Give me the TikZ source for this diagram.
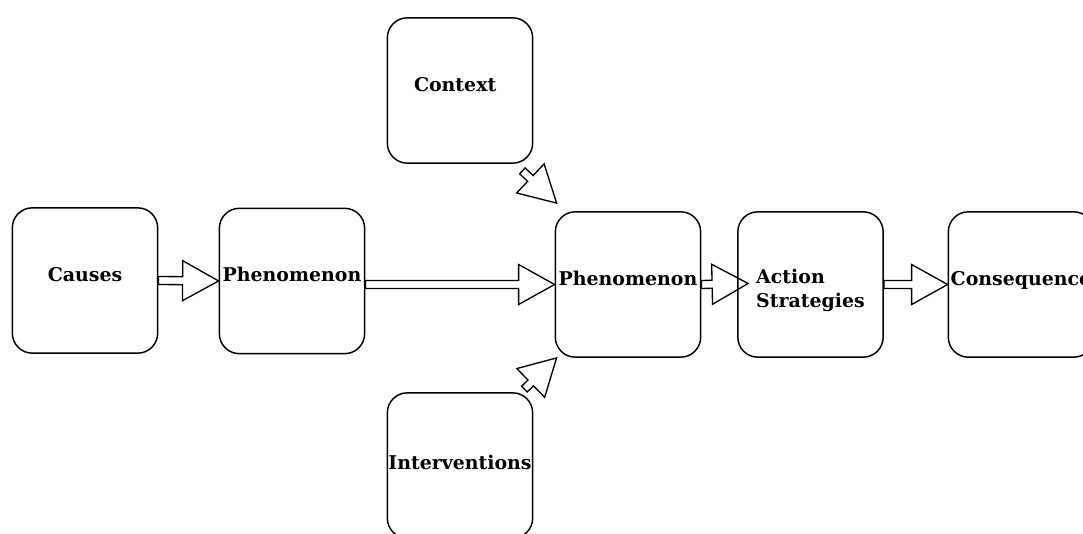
\documentclass[tikz,border=0pt]{standalone}
\usepackage{fontspec}
\setmainfont{DejaVu Serif}
\usetikzlibrary{calc}

\tikzset{
laatikko/.style={draw, rounded corners=15pt, line width=1.1pt, minimum width=109pt, minimum height=109pt, inner sep=0pt, text height=10.2pt, text depth=9pt, font=\fontsize{14.2}{18}\selectfont\bfseries},
nuoli/.style={draw, line width=1pt, line join=miter}
}
% block arrow from #1 to #2
\newcommand\nuoli[2]{
\draw[nuoli] ($(#1)!3pt!90:(#2)$) -- ($(#2)!27pt!(#1)!3pt!-90:(#1)$) -- ($(#2)!27pt!(#1)!15pt!-90:(#1)$) -- (#2) -- ($(#2)!27pt!(#1)!15pt!90:(#1)$) -- ($(#2)!27pt!(#1)!3pt!90:(#1)$) -- ($(#1)!3pt!-90:(#2)$) -- cycle;
}

\begin{document}
\begin{tikzpicture}[x=0.75pt,y=-0.75pt]
\useasboundingbox (0,0) rectangle (1083,534);
\clip (0,0) rectangle (1083,534);
\node[laatikko] (c) at (85,280.5) {Causes};
\node[laatikko] (f1) at (292,281) {Phenomenon};
\node[laatikko, text width=69pt, align=left] (ctx) at (460,90.5) {Context};
\node[laatikko] (f2) at (628,284.5) {Phenomenon};
\node[laatikko, align=left, text height=35.2pt, text depth=0pt] (act) at (810.5,284.5) {Action\\Strategies};
\node[laatikko] (cons) at (1021,284.5) {Consequence};
\node[laatikko, text depth=3.8pt] (intv) at (460,465.5) {Interventions};
\coordinate (f1ulos) at (f1.east |- f2.west);
\coordinate (actkarki) at ($(act.west)+(11,-1)$);
\coordinate (ctxulos) at ($(ctx.south east)+(-11,7)$);
\coordinate (ctxkarki) at ($(f2.north west)+(2,-8)$);
\coordinate (intvulos) at ($(intv.north east)+(-9,-3)$);
\coordinate (intvkarki) at ($(f2.south west)+(2,0)$);
\nuoli{c.east}{f1.west}
\nuoli{f1ulos}{f2.west}
\nuoli{f2.east}{actkarki}
\nuoli{act.east}{cons.west}
\nuoli{ctxulos}{ctxkarki}
\nuoli{intvulos}{intvkarki}
\end{tikzpicture}
\end{document}
